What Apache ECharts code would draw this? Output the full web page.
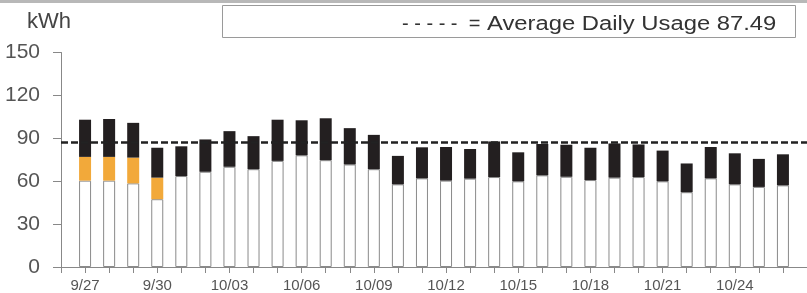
<!DOCTYPE html>
<html>
<head>
<meta charset="utf-8">
<script src="https://cdn.jsdelivr.net/npm/echarts@6/dist/echarts.min.js"></script>
<style>
  html, body { margin: 0; padding: 0; background: #fff; }
  #chart { width: 807px; height: 293px; }
</style>
</head>
<body>
<div id="chart"></div>
<script>
// daily readings, 9/27 .. 10/26
const days = ["9/27", "9/28", "9/29", "9/30", "10/01", "10/02", "10/03", "10/04", "10/05", "10/06",
  "10/07", "10/08", "10/09", "10/10", "10/11", "10/12", "10/13", "10/14", "10/15", "10/16",
  "10/17", "10/18", "10/19", "10/20", "10/21", "10/22", "10/23", "10/24", "10/25", "10/26"];

// white base part of each bar
const baseUse = [60.4, 60.4, 58.5, 47.4, 63.6, 66.6, 70.1, 68.4, 74.2, 78.1,
  74.7, 71.7, 68.4, 57.8, 62.0, 60.4, 61.8, 62.9, 59.9, 64.1,
  63.1, 60.8, 62.5, 62.9, 59.9, 52.3, 62.0, 57.8, 56.0, 57.1];

// orange middle part (only first days)
const midUse = [16.6, 16.6, 18.0, 15.1, 0, 0, 0, 0, 0, 0,
  0, 0, 0, 0, 0, 0, 0, 0, 0, 0,
  0, 0, 0, 0, 0, 0, 0, 0, 0, 0];

// black top part
const topUse = [26.0, 26.5, 24.3, 20.9, 20.8, 22.6, 24.9, 23.1, 28.8, 24.5,
  29.3, 25.4, 24.0, 19.9, 21.7, 23.5, 20.7, 24.9, 20.3, 21.9,
  22.4, 22.6, 23.9, 22.8, 21.5, 20.1, 21.9, 21.7, 19.6, 21.7];

const avgUsage = 87.49;
const yTicks = { min: 0, max: 150, step: 30 };

// the axis starts one day before the first bar and runs one day past the last
const categories = ["9/26"].concat(days, ["10/27"]);
const pad = arr => ["-"].concat(arr, ["-"]);

const FONT = "Liberation Sans, Arial, sans-serif";
const legendFont = "20px " + FONT;

const chart = echarts.init(document.getElementById("chart"), null, { renderer: "canvas" });

chart.setOption({
  animation: false,
  backgroundColor: "#fff",
  textStyle: { fontFamily: FONT },
  title: {
    text: "kWh",
    left: 22,
    top: 6,
    textStyle: { fontSize: 22, fontWeight: "normal", color: "#444" }
  },
  graphic: [
    { type: "rect", left: 0, top: 0, shape: { width: 807, height: 3 }, style: { fill: "#b8b8b8" } },
    {
      type: "rect", left: 222, top: 5,
      shape: { width: 573, height: 32 },
      style: { fill: "#fff", stroke: "#9a9a9a", lineWidth: 1 }
    },
    // the scanned legend text is a little wider than Arial, so stretch it
    {
      type: "text", x: 402, y: 14,
      style: { text: "- - - - -  =", font: legendFont, fill: "#333" }
    },
    {
      type: "text", x: 487, y: 14, scaleX: 1.19,
      style: { text: "Average Daily Usage " + avgUsage, font: legendFont, fill: "#333" }
    }
  ],
  grid: { left: 61, right: -3, top: 52.5, bottom: 23.5 },
  xAxis: {
    type: "category",
    data: categories,
    boundaryGap: false,
    axisLine: { lineStyle: { color: "#888", width: 1 } },
    axisTick: { length: 6, interval: 0, lineStyle: { color: "#888" } },
    axisLabel: {
      interval: i => i % 3 === 1 && i <= days.length,
      margin: 11,
      fontSize: 15,
      color: "#555"
    },
    splitLine: { show: false }
  },
  yAxis: {
    type: "value",
    min: yTicks.min,
    max: yTicks.max,
    interval: yTicks.step,
    axisLine: { show: true, lineStyle: { color: "#888", width: 1 } },
    axisTick: { show: true, length: 8, lineStyle: { color: "#888" } },
    axisLabel: { margin: 21, fontSize: 21, color: "#555" },
    splitLine: { show: false }
  },
  series: [
    {
      name: "base",
      type: "bar",
      stack: "use",
      barWidth: 12,
      data: pad(baseUse),
      itemStyle: { color: "#fff", borderColor: "#8a8a8a", borderWidth: 1 }
    },
    {
      name: "peak",
      type: "bar",
      stack: "use",
      barWidth: 12,
      data: pad(midUse),
      itemStyle: { color: "#f2a93a" }
    },
    {
      name: "top",
      type: "bar",
      stack: "use",
      barWidth: 12,
      data: pad(topUse),
      itemStyle: { color: "#231f20" },
      markLine: {
        silent: true,
        symbol: "none",
        label: { show: false },
        lineStyle: { color: "#222", type: [7, 3], width: 2.5 },
        data: [{ yAxis: avgUsage }]
      }
    }
  ]
});
</script>
</body>
</html>
